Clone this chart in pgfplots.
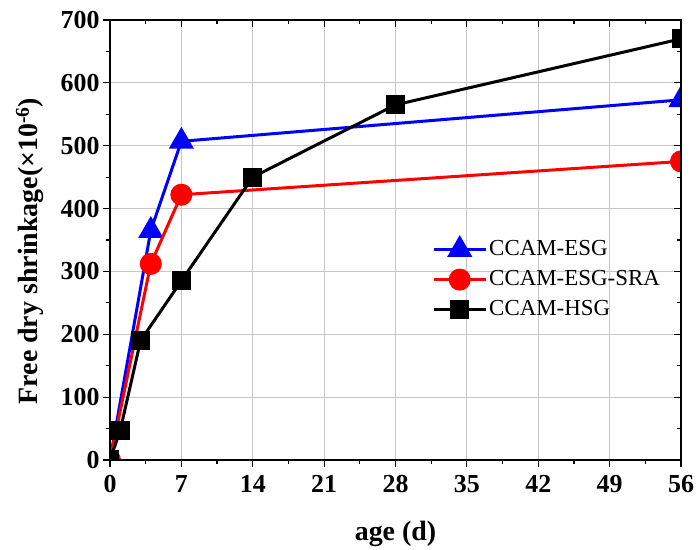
\documentclass[border=0pt]{standalone}
\usepackage{pgfplots}
\pgfplotsset{compat=1.18}
\usepackage{fontspec}
\setmainfont{Liberation Serif}
\begin{document}
\begin{tikzpicture}[x=1bp,y=1bp]
\pgfplotsset{
  common/.style={
    scale only axis,
    width=571bp, height=440bp,
    xmin=0, xmax=56, ymin=0, ymax=700,
    xtick={0,7,...,56}, ytick={0,100,...,700},
    minor x tick num=1, minor y tick num=1,
    major tick length=7bp, minor tick length=4bp,
    axis line style={line width=1.2bp},
    tick style={line width=1.2bp, black},
  }
}
\begin{axis}[
  common,
  tick align=outside,
  xtick pos=bottom, ytick pos=left,
  grid=major,
  major grid style={draw=black!22, line width=1.2bp},
  /pgf/number format/assume math mode=true,
  ticklabel style={font=\fontsize{26}{28}\selectfont\bfseries},
  xticklabel style={yshift=-5bp},
  xlabel={\textbf{age (d)}},
  ylabel={\textbf{Free dry shrinkage(×10\textsuperscript{-6})}},
  label style={font=\fontsize{28}{30}\selectfont},
  xlabel style={at={(axis description cs:0.5,-0.168)}, anchor=center},
  ylabel style={at={(axis description cs:-0.14,0.475)}, anchor=center, rotate=0},
  legend style={at={(0.564,0.41)}, anchor=west, draw=none, fill=none, inner sep=0pt,
    font=\fontsize{23}{25}\selectfont, row sep=5bp,
    nodes={text height=16bp, text depth=5bp},
    /tikz/every even column/.append style={column sep=4bp}},
  legend cell align=left,
  legend image code/.code={
    \draw[#1] (0bp,0bp) -- (52bp,0bp);
    \path[#1] plot coordinates {(26bp,0bp)};
  },
  every axis plot/.append style={line width=3bp},
  clip=true, clip marker paths=true,
]
\addplot[blue, mark=triangle*, mark size=11.5bp, mark options={solid}] coordinates {
 (0,0) (4,365) (7,507) (56,573)};
\addlegendentry{CCAM-ESG}
\addplot[red, mark=*, mark size=9.5bp] coordinates {
 (0,0) (4,312) (7,422) (56,475)};
\addlegendentry{CCAM-ESG-SRA}
\addplot[black, mark=square*, mark size=8bp] coordinates {
 (0,0) (1,47) (3,190) (7,285) (14,450) (28,565) (56,670)};
\addlegendentry{CCAM-HSG}
\end{axis}
\begin{axis}[
  common,
  tick align=inside,
  xtick pos=top, ytick pos=right,
  xticklabels={}, yticklabels={},
]
\end{axis}
\pgfresetboundingbox
\path (current axis.south west) ++(-110bp,-90bp) coordinate (bbsw);
\path (current axis.north east) ++(15bp,20bp) coordinate (bbne);
\useasboundingbox (bbsw) rectangle (bbne);
\end{tikzpicture}
\end{document}
